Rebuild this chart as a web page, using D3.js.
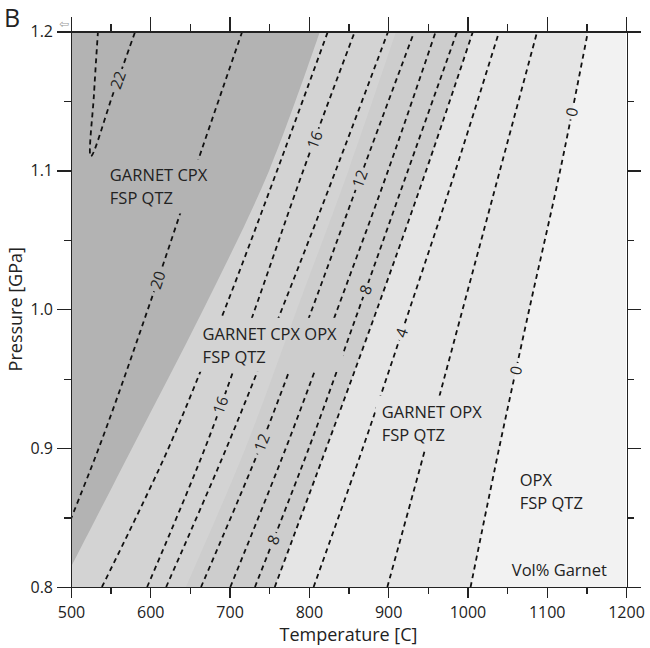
<!DOCTYPE html>
<html lang="en">
<head>
<meta charset="UTF-8">
<title>Vol% Garnet P-T section</title>
<style>
  body { margin: 0; background: #fff; }
  svg text { font-family: "Open Sans", "DejaVu Sans", sans-serif; fill: #222; }
  .axis path, .axis line { stroke: #222; stroke-width: 1.3px; shape-rendering: crispEdges; }
  .axis text { font-size: 16px; }
  .iso { fill: none; stroke: #111; stroke-width: 1.8px; stroke-dasharray: 5,4; }
  .iso-label { font-size: 15.5px; }
  .field { font-size: 16.5px; }
</style>
</head>
<body>
<script src="https://d3js.org/d3.v7.min.js"></script>
<script>
// pressure grid (GPa) the isopleths are sampled on
const P_GRID = [0.8, 0.9, 1.0, 1.1, 1.2];

// vol% garnet isopleths: temperature (C) at each pressure of P_GRID
const iso20 = [465, 535, 597, 656, 716];
const iso18 = [539, 623, 694, 760, 824];
const iso16 = [596, 669, 732, 793, 858];
const iso14 = [620, 696, 766, 834, 900];
const iso12 = [664, 738, 804, 868, 933];
const iso10 = [701, 771, 836, 900, 960];
const iso8  = [732, 800, 863, 925, 987];
const iso6  = [757, 822, 886, 948, 1007];
const iso4  = [806, 868, 927, 985, 1040];
const iso2  = [899, 947, 994, 1041, 1088];
const iso0  = [1004, 1040, 1078, 1117, 1152];

// the 22 isopleth closes in a V near the top-left corner
const iso22T = [534, 529, 525, 553, 581];
const iso22P = [1.2, 1.155, 1.11, 1.155, 1.2];

// field boundaries (temperature at each pressure of P_GRID)
const cpxOut   = [487, 577, 667, 750, 814];   // CPX-out line
const shadeCut = [645, 720, 785, 850, 910];   // shading step inside the GARNET CPX OPX field

// isopleth labels
const labelLevels    = [22, 20, 16, 16, 12, 12, 8, 8, 4, 0, 0];
const labelPressures = [1.165, 1.021, 1.122, 0.931, 1.094, 0.904, 1.014, 0.834, 0.983, 1.142, 0.956];

// field names
const fieldNames = [["GARNET CPX", "FSP QTZ"], ["GARNET CPX OPX", "FSP QTZ"], ["GARNET OPX", "FSP QTZ"], ["OPX", "FSP QTZ"], ["Vol% Garnet"]];
const fieldT = [549, 666, 892, 1066, 1056];
const fieldP = [1.092, 0.978, 0.922, 0.873, 0.808];

const W = 650, H = 648;
const svg = d3.select("body").append("svg").attr("width", W).attr("height", H);

const x = d3.scaleLinear().domain([500, 1200]).range([71, 626]);
const y = d3.scaleLinear().domain([0.8, 1.2]).range([587, 31.5]);

const defs = svg.append("defs");
defs.append("clipPath").attr("id", "plot")
  .append("rect")
  .attr("x", x(500)).attr("y", y(1.2))
  .attr("width", x(1200) - x(500)).attr("height", y(0.8) - y(1.2));

const mask = defs.append("mask").attr("id", "knock")
  .attr("maskUnits", "userSpaceOnUse")
  .attr("x", 0).attr("y", 0).attr("width", W).attr("height", H);
mask.append("rect").attr("width", W).attr("height", H).attr("fill", "#fff");

// ---- shaded fields ----
const fills = svg.append("g").attr("clip-path", "url(#plot)");
fills.append("rect")
  .attr("x", x(500)).attr("y", y(1.2))
  .attr("width", x(1200) - x(500)).attr("height", y(0.8) - y(1.2))
  .attr("fill", "#f2f2f2");

const leftOf = d3.area()
  .y(d => y(d[1]))
  .x0(x(400))
  .x1(d => x(d[0]))
  .curve(d3.curveCatmullRom);

const zip = temps => temps.map((t, i) => [t, P_GRID[i]]);

[[iso0, "#e5e5e5"], [iso6, "#cdcdcd"], [shadeCut, "#d3d3d3"], [cpxOut, "#b3b3b3"]]
  .forEach(([temps, c]) => {
    fills.append("path").attr("d", leftOf(zip(temps))).attr("fill", c);
  });

// ---- isopleths ----
const line = d3.line()
  .x(d => x(d[0]))
  .y(d => y(d[1]))
  .curve(d3.curveCatmullRom);

const isoGroup = svg.append("g").attr("clip-path", "url(#plot)")
  .append("g").attr("mask", "url(#knock)");

const isoSets = [iso20, iso18, iso16, iso14, iso12, iso10, iso8, iso6, iso4, iso2, iso0];
isoSets.forEach(temps => {
  isoGroup.append("path").attr("class", "iso").attr("d", line(zip(temps)));
});
isoGroup.append("path").attr("class", "iso")
  .attr("d", line(iso22T.map((t, i) => [t, iso22P[i]])));

// temperature of an isopleth at a given pressure
const levelTemps = {
  20: iso20, 18: iso18, 16: iso16, 14: iso14, 12: iso12, 10: iso10,
  8: iso8, 6: iso6, 4: iso4, 2: iso2, 0: iso0
};
function tempAt(level, p) {
  if (level === 22) return d3.scaleLinear().domain([1.11, 1.2]).range([525, 581])(p);
  return d3.scaleLinear().domain(P_GRID).range(levelTemps[level])(p);
}

const labels = svg.append("g");
labelLevels.forEach((lv, i) => {
  const p = labelPressures[i];
  const px = x(tempAt(lv, p)), py = y(p);
  const dx = x(tempAt(lv, p + 0.01)) - x(tempAt(lv, p - 0.01));
  const dy = y(p + 0.01) - y(p - 0.01);
  const ang = Math.atan2(dy, dx) * 180 / Math.PI;
  const t = labels.append("text")
    .attr("class", "iso-label")
    .attr("transform", `translate(${px},${py}) rotate(${ang})`)
    .attr("text-anchor", "middle")
    .attr("dy", "0.36em")
    .text(lv);
  const w = t.node().getComputedTextLength() + 6;
  mask.append("rect")
    .attr("transform", `translate(${px},${py}) rotate(${ang})`)
    .attr("x", -w / 2).attr("y", -7)
    .attr("width", w).attr("height", 14)
    .attr("fill", "#000");
});

// ---- field names ----
fieldNames.forEach((rows, i) => {
  const t = svg.append("text")
    .attr("class", "field")
    .attr("x", x(fieldT[i]))
    .attr("y", y(fieldP[i]));
  rows.forEach((r, j) => {
    t.append("tspan").attr("x", x(fieldT[i])).attr("dy", j ? 23 : 0).text(r);
  });
  const b = t.node().getBBox();
  mask.append("rect")
    .attr("x", b.x - 6).attr("y", b.y - 4)
    .attr("width", b.width + 12).attr("height", b.height + 8)
    .attr("fill", "#000");
});

// ---- axes ----
const fmtP = d3.format(".1f");
const majorT = d3.range(500, 1201, 100), minorT = d3.range(550, 1200, 100);
const majorP = [0.8, 0.9, 1.0, 1.1, 1.2], minorP = [0.85, 0.95, 1.05, 1.15];

function minor(g) { g.select(".domain").remove(); }

svg.append("g").attr("class", "axis").attr("transform", `translate(0,${y(0.8)})`)
  .call(d3.axisBottom(x).tickValues(majorT).tickSize(11).tickSizeOuter(0).tickPadding(9).tickFormat(d3.format("d")));
svg.append("g").attr("class", "axis").attr("transform", `translate(0,${y(0.8)})`)
  .call(d3.axisBottom(x).tickValues(minorT).tickSize(7).tickFormat("")).call(minor);

svg.append("g").attr("class", "axis").attr("transform", `translate(0,${y(1.2)})`)
  .call(d3.axisTop(x).tickValues(majorT).tickSize(15).tickSizeOuter(0).tickFormat(""));
svg.append("g").attr("class", "axis").attr("transform", `translate(0,${y(1.2)})`)
  .call(d3.axisTop(x).tickValues(minorT).tickSize(8).tickFormat("")).call(minor);

svg.append("g").attr("class", "axis").attr("transform", `translate(${x(500)},0)`)
  .call(d3.axisLeft(y).tickValues(majorP).tickSize(14).tickSizeOuter(0).tickPadding(4).tickFormat(fmtP));
svg.append("g").attr("class", "axis").attr("transform", `translate(${x(500)},0)`)
  .call(d3.axisLeft(y).tickValues(minorP).tickSize(7).tickFormat("")).call(minor);

svg.append("g").attr("class", "axis").attr("transform", `translate(${x(1200) + 1},0)`)
  .call(d3.axisRight(y).tickValues(majorP).tickSize(14).tickSizeOuter(0).tickFormat(""));
svg.append("g").attr("class", "axis").attr("transform", `translate(${x(1200) + 1},0)`)
  .call(d3.axisRight(y).tickValues(minorP).tickSize(7).tickFormat("")).call(minor);

svg.selectAll(".axis .domain").attr("fill", "none");

// ---- titles ----
svg.append("text")
  .attr("x", (x(500) + x(1200)) / 2).attr("y", 641)
  .attr("text-anchor", "middle").style("font-size", "18px")
  .text("Temperature [C]");

svg.append("text")
  .attr("transform", `translate(22,${(y(0.8) + y(1.2)) / 2}) rotate(-90)`)
  .attr("text-anchor", "middle").style("font-size", "18px")
  .text("Pressure [GPa]");

svg.append("text")
  .attr("x", 4).attr("y", 27)
  .style("font-size", "25px")
  .text("B");

svg.append("text")
  .attr("x", 59).attr("y", 28)
  .style("font-size", "12px").style("fill", "#999")
  .style("font-family", "DejaVu Sans")
  .text("⇦");
</script>
</body>
</html>
